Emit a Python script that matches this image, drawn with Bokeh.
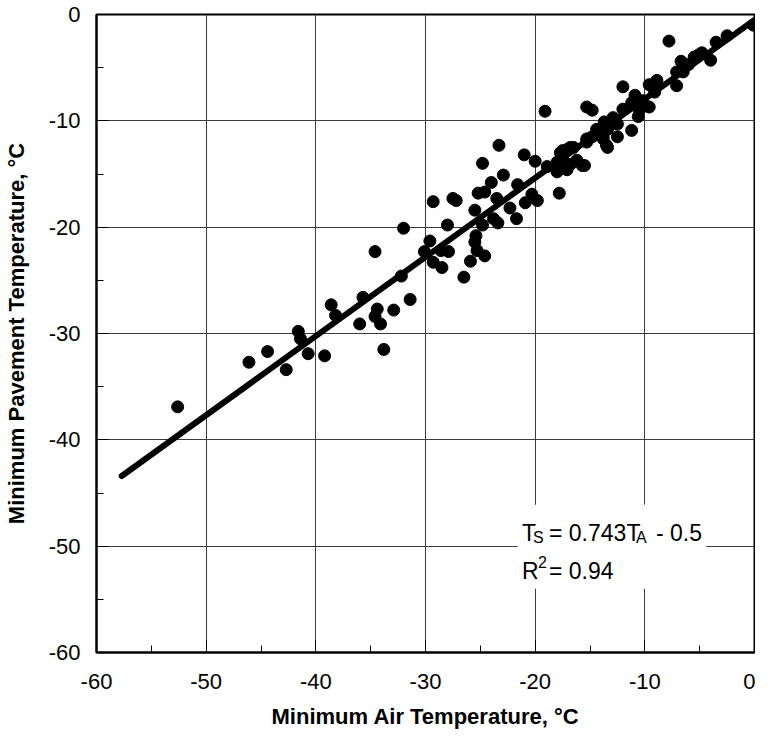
from bokeh.plotting import figure
from bokeh.models import (SingleIntervalTicker, Label, BoxAnnotation, ColumnDataSource,
                          PrintfTickFormatter)
from bokeh.embed import file_html
from bokeh.resources import INLINE

air_temp = [-52.6, -46.1, -44.4, -42.7, -41.6, -41.4, -40.7, -39.2, -38.6, -38.2,
            -35.7, -36.0, -34.4, -34.6, -34.1, -32.9, -33.8, -31.4, -32.2, -34.6,
            -32.0, -30.1, -29.6, -29.3, -28.5, -28.6, -27.9, -29.3, -27.5, -27.2,
            -28.0, -26.5, -25.9, -25.5, -25.3, -25.4, -24.8, -25.5, -25.2, -24.8,
            -24.6, -24.0, -23.5, -23.8, -23.4, -24.6, -23.3, -22.9, -22.3, -21.7,
            -21.6, -21.0, -20.9, -20.3, -20.0, -19.8, -19.1, -18.9, -17.8, -18.0,
            -17.7, -17.5, -17.1, -16.8, -16.5, -18.0, -17.5, -17.1, -16.8, -16.2,
            -15.7, -15.5, -17.1, -15.3, -15.3, -14.8, -14.4, -13.8, -13.5, -13.4,
            -13.4, -12.9, -12.5, -12.5, -12.0, -12.0, -11.2, -10.9, -10.6, -10.2,
            -9.6, -9.6, -8.9, -7.8, -6.7, -7.1, -6.5, -7.1, -5.5, -4.8,
            -4.0, -3.5, -2.5, -0.1, -15.3, -14.8, -6.0, -5.1, -9.1, -10.8,
            -10.5, -11.2, -13.2, -13.8, -13.7]
pave_temp = [-36.9, -32.7, -31.7, -33.4, -29.8, -30.5, -31.9, -32.1, -27.3, -28.3,
             -26.6, -29.1, -27.7, -28.4, -29.1, -27.8, -31.5, -26.8, -24.6, -22.3,
             -20.1, -22.3, -21.3, -23.3, -23.8, -22.2, -22.3, -17.6, -17.3, -17.5,
             -19.8, -24.7, -23.2, -21.4, -22.2, -20.8, -19.8, -18.4, -16.8, -14.0,
             -16.7, -15.8, -17.3, -19.2, -19.6, -22.7, -12.3, -15.1, -18.2, -19.2,
             -16.0, -13.2, -17.7, -16.9, -13.8, -17.5, -9.1, -14.3, -16.8, -14.8,
             -13.0, -12.8, -12.7, -12.5, -12.5, -13.9, -13.6, -14.2, -14.1, -13.7,
             -14.2, -14.2, -14.6, -12.0, -11.7, -11.5, -10.8, -11.5, -12.3, -10.8,
             -12.5, -9.7, -10.3, -11.5, -8.9, -6.8, -10.9, -7.6, -9.6, -8.1,
             -8.7, -6.6, -6.2, -2.5, -4.4, -5.4, -5.4, -6.7, -4.0, -3.6,
             -4.3, -2.6, -2.0, -1.0, -8.7, -9.0, -4.7, -3.8, -7.3, -8.0,
             -9.0, -8.3, -10.4, -11.7, -10.1]

fit_x = [-57.7, 0.0]
fit_y = [-43.4, -0.5]

x_title = "Minimum Air Temperature, °C"
y_title = "Minimum Pavement Temperature, °C"
eq_parts = ["T", "S", "= 0.743T", "A", "- 0.5"]
r2_parts = ["R", "2", "= 0.94"]

FONT = "Liberation Sans"

p = figure(width=755, height=733, x_range=(-60, 0), y_range=(-60, 0),
           output_backend="svg", toolbar_location=None,
           min_border_left=94, min_border_right=1, min_border_top=14,
           min_border_bottom=81)

p.background_fill_color = "white"
p.border_fill_color = "white"
p.outline_line_color = "black"
p.outline_line_width = 2

for ax in (p.xaxis[0], p.yaxis[0]):
    ax.ticker = SingleIntervalTicker(interval=10, num_minor_ticks=2)
    ax.formatter = PrintfTickFormatter(format="%d")
    ax.axis_line_color = "black"
    ax.axis_line_width = 2
    ax.major_tick_in = 12
    ax.major_tick_out = 0
    ax.minor_tick_in = 7
    ax.minor_tick_out = 0
    ax.major_tick_line_color = "black"
    ax.minor_tick_line_color = "black"
    ax.major_label_text_font = FONT
    ax.major_label_text_font_size = "22px"
    ax.major_label_text_color = "black"
    ax.axis_label_text_font = FONT
    ax.axis_label_text_font_size = "22px"
    ax.axis_label_text_font_style = "bold"
    ax.axis_label_text_color = "black"

p.xaxis.axis_label = x_title
p.yaxis.axis_label = y_title
p.xaxis.major_label_standoff = 21
p.xaxis.axis_label_standoff = 12
p.yaxis.major_label_standoff = 16
p.yaxis.axis_label_standoff = 17

for g in (p.xgrid[0], p.ygrid[0]):
    g.ticker = SingleIntervalTicker(interval=10)
    g.grid_line_color = "#3a3a3a"
    g.grid_line_width = 1

src = ColumnDataSource(dict(x=air_temp, y=pave_temp))
p.scatter("x", "y", source=src, size=12, fill_color="black", line_color="black")
p.line(fit_x, fit_y, line_width=6, line_color="black", line_cap="round")

p.add_layout(BoxAnnotation(left=-21.6, right=-4.4, top=-46.1, bottom=-54.0,
                           fill_color="white", fill_alpha=1.0, line_alpha=0))

x0 = -21.2
y1 = -48.8
y2 = -52.3
big = "23px"
small = "16px"
specs = [
    (eq_parts[0], y1, 0, 0, big),
    (eq_parts[1], y1, 11, -4, small),
    (eq_parts[2], y1, 27, 0, big),
    (eq_parts[3], y1, 114, -4, small),
    (eq_parts[4], y1, 134, 0, big),
    (r2_parts[0], y2, 0, 0, big),
    (r2_parts[1], y2, 16, 9, small),
    (r2_parts[2], y2, 27, 0, big),
]
for txt, yy, xo, yo, fs in specs:
    p.add_layout(Label(x=x0, y=yy, x_offset=xo, y_offset=yo, text=txt,
                       text_font=FONT, text_font_size=fs, text_color="black",
                       text_baseline="alphabetic", text_align="left"))

open("out.html", "w").write(file_html(p, INLINE))
